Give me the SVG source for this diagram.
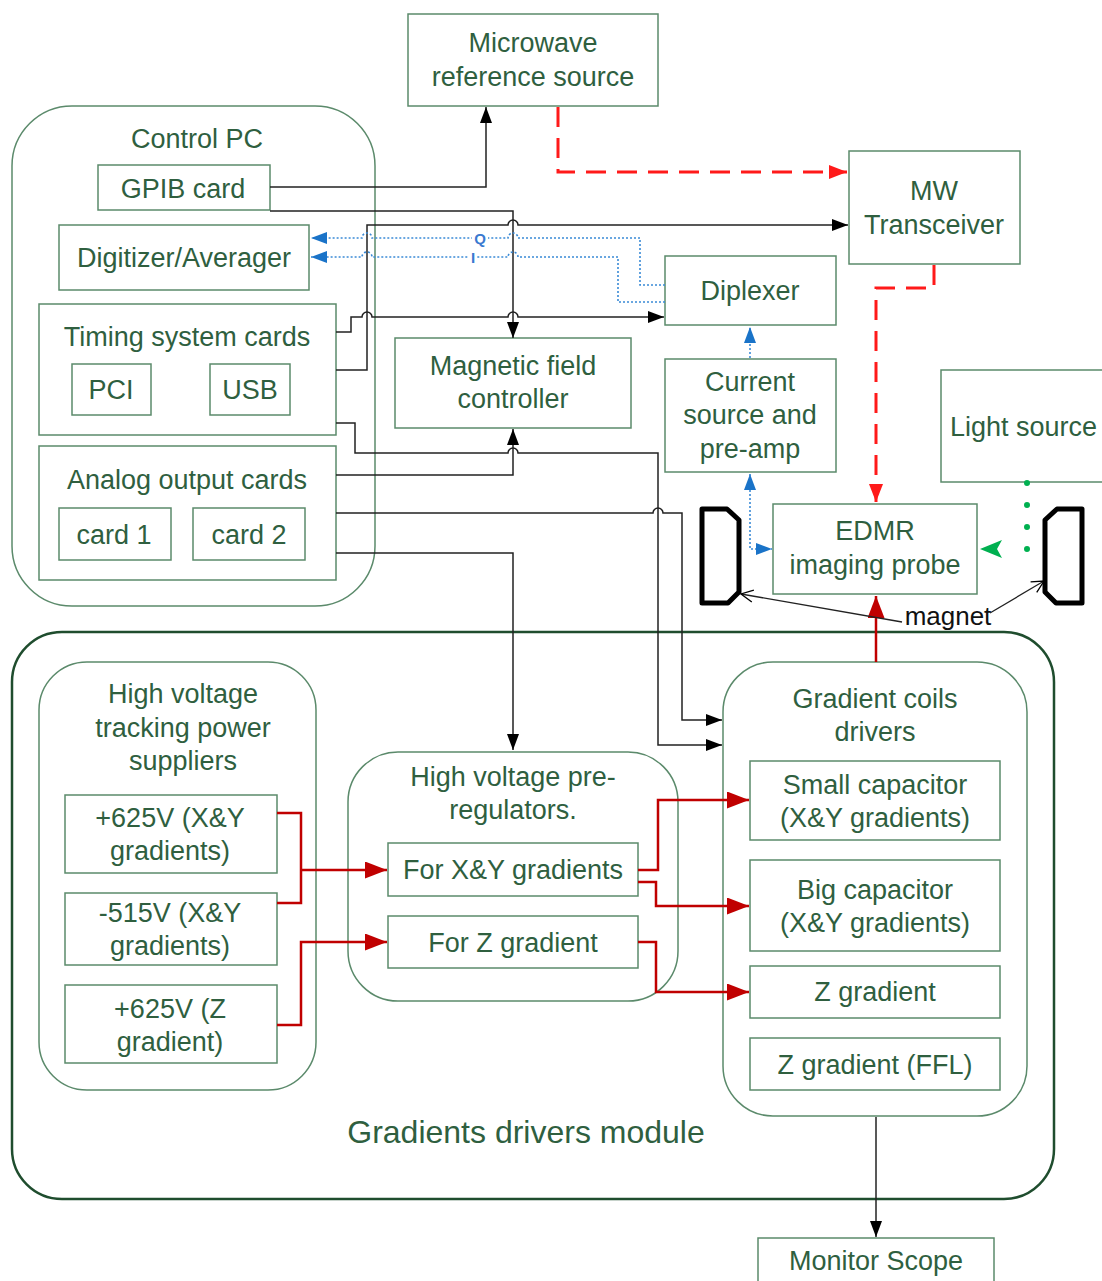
<svg xmlns="http://www.w3.org/2000/svg" width="1102" height="1281" viewBox="0 0 1102 1281">
<style>
.box{fill:#fff;stroke:#5b8a6b;stroke-width:1.5}
.grp{fill:none;stroke:#5b8a6b;stroke-width:1.5}
.mod{fill:none;stroke:#1f4d2e;stroke-width:2.5}
text{font-family:"Liberation Sans",Arial,sans-serif;font-size:27px;fill:#2f5f3f;text-anchor:middle}
.blk{fill:none;stroke:#222;stroke-width:1.5}
.red{fill:none;stroke:#c00000;stroke-width:2.5}
.rdash{fill:none;stroke:#ff1a1a;stroke-width:3;stroke-dasharray:20 11}
.blue{fill:none;stroke:#3a8ad6;stroke-width:1.6;stroke-dasharray:2 2}
.green{fill:none;stroke:#00b050;stroke-width:6;stroke-linecap:round;stroke-dasharray:0 22}
.mag{fill:none;stroke:#000;stroke-width:5;stroke-linejoin:round}
</style>
<defs>
<marker id="ab" markerUnits="userSpaceOnUse" markerWidth="16" markerHeight="12" refX="16" refY="6" orient="auto"><path d="M0,0 L16,6 L0,12 z" fill="#000"/></marker>
<marker id="ar" markerUnits="userSpaceOnUse" markerWidth="22" markerHeight="17" refX="22" refY="8.5" orient="auto"><path d="M0,0 L22,8.5 L0,17 z" fill="#c00000"/></marker>
<marker id="ard" markerUnits="userSpaceOnUse" markerWidth="18" markerHeight="14" refX="18" refY="7" orient="auto"><path d="M0,0 L18,7 L0,14 z" fill="#ff1a1a"/></marker>
<marker id="abl" markerUnits="userSpaceOnUse" markerWidth="16" markerHeight="12" refX="16" refY="6" orient="auto-start-reverse"><path d="M0,0 L16,6 L0,12 z" fill="#1a73c8"/></marker>
<marker id="ag" markerUnits="userSpaceOnUse" markerWidth="22" markerHeight="18" refX="22" refY="9" orient="auto"><path d="M0,0 L22,9 L0,18 L5,9 z" fill="#00b050"/></marker>
<marker id="ao" markerUnits="userSpaceOnUse" markerWidth="14" markerHeight="14" refX="13" refY="7" orient="auto"><path d="M1,1 L13,7 L1,13" fill="none" stroke="#000" stroke-width="1.3"/></marker>
</defs>

<g id="gradients-module">
<rect class="mod" x="12" y="632" width="1042" height="567" rx="50"/>
<text x="526" y="1143" style="font-size:32px">Gradients drivers module</text>
</g>

<g id="control-pc">
<rect class="grp" x="12" y="106" width="363" height="500" rx="60"/>
<text x="197" y="148">Control PC</text>
</g>
<g id="gpib"><rect class="box" x="98" y="165" width="172" height="45"/><text x="183" y="198">GPIB card</text></g>
<g id="digitizer"><rect class="box" x="59" y="225" width="250" height="65"/><text x="184" y="267">Digitizer/Averager</text></g>
<g id="timing"><rect class="box" x="39" y="304" width="297" height="131"/><text x="187" y="346">Timing system cards</text></g>
<g id="pci"><rect class="box" x="72" y="364" width="79" height="51"/><text x="111" y="399">PCI</text></g>
<g id="usb"><rect class="box" x="210" y="364" width="80" height="51"/><text x="250" y="399">USB</text></g>
<g id="analog"><rect class="box" x="39" y="446" width="297" height="134"/><text x="187" y="489">Analog output cards</text></g>
<g id="card1"><rect class="box" x="59" y="508" width="112" height="52"/><text x="114" y="544">card 1</text></g>
<g id="card2"><rect class="box" x="193" y="508" width="112" height="52"/><text x="249" y="544">card 2</text></g>

<g id="microwave"><rect class="box" x="408" y="14" width="250" height="92"/><text x="533" y="52">Microwave</text><text x="533" y="86">reference source</text></g>
<g id="mw-transceiver"><rect class="box" x="849" y="151" width="171" height="113"/><text x="934" y="200">MW</text><text x="934" y="234">Transceiver</text></g>
<g id="diplexer"><rect class="box" x="665" y="256" width="171" height="69"/><text x="750" y="300">Diplexer</text></g>
<g id="mfc"><rect class="box" x="395" y="338" width="236" height="90"/><text x="513" y="375">Magnetic field</text><text x="513" y="408">controller</text></g>
<g id="current-source"><rect class="box" x="665" y="359" width="171" height="113"/><text x="750" y="391">Current</text><text x="750" y="424">source and</text><text x="750" y="458">pre-amp</text></g>
<g id="light-source"><rect class="box" x="941" y="370" width="170" height="112"/><text x="950" y="436" style="text-anchor:start">Light source</text></g>
<g id="edmr"><rect class="box" x="773" y="504" width="204" height="90"/><text x="875" y="540">EDMR</text><text x="875" y="574">imaging probe</text></g>

<g id="magnet">
<path class="mag" d="M702,509 H727 L739,520 V592 L728,603 H702 Z"/>
<path class="mag" d="M1082,509 H1057 L1045,520 V592 L1056,603 H1082 Z"/>
<text x="948" y="625" style="fill:#111;font-size:26px">magnet</text>
</g>

<g id="hv-tracking"><rect class="grp" x="39" y="662" width="277" height="428" rx="48"/><text x="183" y="703">High voltage</text><text x="183" y="737">tracking power</text><text x="183" y="770">suppliers</text></g>
<g id="p625xy"><rect class="box" x="65" y="795" width="212" height="78"/><text x="170" y="827">+625V (X&amp;Y</text><text x="170" y="860">gradients)</text></g>
<g id="m515xy"><rect class="box" x="65" y="893" width="212" height="72"/><text x="170" y="922">-515V (X&amp;Y</text><text x="170" y="955">gradients)</text></g>
<g id="p625z"><rect class="box" x="65" y="985" width="212" height="78"/><text x="170" y="1018">+625V (Z</text><text x="170" y="1051">gradient)</text></g>

<g id="hv-prereg"><rect class="grp" x="348" y="752" width="330" height="249" rx="50"/><text x="513" y="786">High voltage pre-</text><text x="513" y="819">regulators.</text></g>
<g id="for-xy"><rect class="box" x="388" y="843" width="250" height="53"/><text x="513" y="879">For X&amp;Y gradients</text></g>
<g id="for-z"><rect class="box" x="388" y="916" width="250" height="52"/><text x="513" y="952">For Z gradient</text></g>

<g id="coil-drivers"><rect class="grp" x="723" y="662" width="304" height="454" rx="50"/><text x="875" y="708">Gradient coils</text><text x="875" y="741">drivers</text></g>
<g id="small-cap"><rect class="box" x="750" y="761" width="250" height="79"/><text x="875" y="794">Small capacitor</text><text x="875" y="827">(X&amp;Y gradients)</text></g>
<g id="big-cap"><rect class="box" x="750" y="860" width="250" height="91"/><text x="875" y="899">Big capacitor</text><text x="875" y="932">(X&amp;Y gradients)</text></g>
<g id="z-grad"><rect class="box" x="750" y="966" width="250" height="52"/><text x="875" y="1001">Z gradient</text></g>
<g id="z-ffl"><rect class="box" x="750" y="1038" width="250" height="52"/><text x="875" y="1074">Z gradient (FFL)</text></g>

<g id="monitor-scope"><rect class="box" x="758" y="1238" width="236" height="60"/><text x="876" y="1270">Monitor Scope</text></g>

<g id="connectors">
<path class="blk" d="M270,187 H486 V107" marker-end="url(#ab)"/>
<path class="blk" d="M270,211 H513 V338" marker-end="url(#ab)"/>
<path class="blk" d="M336,370 H367 V225 H508 A5,5 0 0 1 518,225 H848" marker-end="url(#ab)"/>
<path class="blk" d="M336,332 H351 V317 H362 A5,5 0 0 1 372,317 H508 A5,5 0 0 1 518,317 H664" marker-end="url(#ab)"/>
<path class="blk" d="M336,423 H355 V453 H508 A5,5 0 0 1 518,453 H658 V745 H722" marker-end="url(#ab)"/>
<path class="blk" d="M336,475 H513 V429" marker-end="url(#ab)"/>
<path class="blk" d="M336,513 H653 A5,5 0 0 1 663,513 H682 V720 H722" marker-end="url(#ab)"/>
<path class="blk" d="M336,553 H513 V750" marker-end="url(#ab)"/>
<path class="blk" d="M876,1117 V1237" marker-end="url(#ab)"/>

<path class="blue" d="M665,285 H640 V238 H518 A5,5 0 0 0 508,238 H372 A5,5 0 0 0 362,238 H311" marker-end="url(#abl)"/>
<path class="blue" d="M665,302 H618 V257 H518 A5,5 0 0 0 508,257 H372 A5,5 0 0 0 362,257 H311" marker-end="url(#abl)"/>
<rect x="472" y="229" width="16" height="18" fill="#fff"/>
<text x="480" y="244" style="font-size:15px;font-weight:bold;fill:#3a7ad0">Q</text>
<rect x="469" y="249" width="8" height="16" fill="#fff"/>
<text x="473" y="263" style="font-size:15px;font-weight:bold;fill:#3a7ad0">I</text>
<path class="blue" d="M750,358 V327" marker-end="url(#abl)"/>
<path class="blue" d="M750,474 V549 H772" marker-start="url(#abl)" marker-end="url(#abl)"/>

<path class="rdash" d="M558,107 V172 H847" marker-end="url(#ard)"/>
<path class="rdash" d="M934,265 V288 H876 V502" marker-end="url(#ard)"/>

<path class="green" d="M1027,483 V549 H1005"/>
<path d="M1000,549 H980" stroke="none" fill="none" marker-end="url(#ag)"/>

<path class="red" d="M876,662 V596" marker-end="url(#ar)"/>
<path class="red" d="M277,813 H301 V903 H277"/>
<path class="red" d="M301,870 H387" marker-end="url(#ar)"/>
<path class="red" d="M277,1025 H301 V942 H387" marker-end="url(#ar)"/>
<path class="red" d="M638,870 H658 V800 H749" marker-end="url(#ar)"/>
<path class="red" d="M638,882 H656 V906 H749" marker-end="url(#ar)"/>
<path class="red" d="M638,942 H656 V992 H749" marker-end="url(#ar)"/>

<path d="M902,622 L741,594" fill="none" stroke="#222" stroke-width="1.3" marker-end="url(#ao)"/>
<path d="M990,613 L1044,581" fill="none" stroke="#222" stroke-width="1.3" marker-end="url(#ao)"/>
</g>
</svg>
